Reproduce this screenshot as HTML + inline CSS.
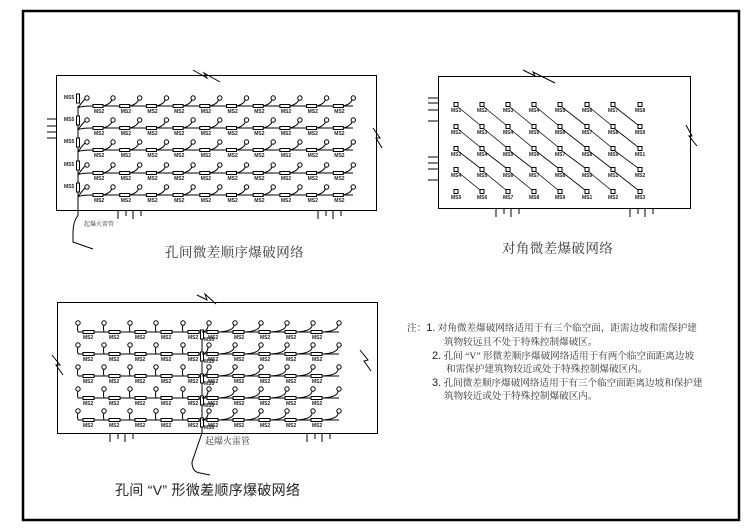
<!DOCTYPE html>
<html><head><meta charset="utf-8"><style>
html,body{margin:0;padding:0;background:#fff;width:749px;height:530px;overflow:hidden}
svg{display:block}
.t{font-family:"Liberation Sans","Noto Sans CJK SC",sans-serif;fill:#222}
.s{font-family:"Liberation Serif","Noto Serif CJK SC",serif;fill:#333}
</style></head><body>
<svg id="g" width="749" height="530" viewBox="0 0 749 530" xmlns="http://www.w3.org/2000/svg">
<rect x="23" y="11" width="716" height="509" fill="none" stroke="#000" stroke-width="2.5"/>
<g fill="none" stroke="#000" stroke-width="1">
<rect x="56.5" y="75.5" width="320" height="135"/>
<rect x="438.5" y="76.5" width="252" height="132"/>
<rect x="57.5" y="302.5" width="320" height="131"/>
</g>
<g id="d" fill="none" stroke="#000" stroke-width="1"></g>
<text class="s" x="165" y="257" font-size="13.5" letter-spacing="0.4">孔间微差顺序爆破网络</text>
<text class="s" x="502" y="253" font-size="13.5" letter-spacing="0.4">对角微差爆破网络</text>
<text class="t" x="115" y="495" font-size="14" letter-spacing="0.3">孔间 “V” 形微差顺序爆破网络</text>
<text class="s" x="84" y="226" font-size="6">起爆火雷管</text>
<text class="s" x="205" y="444" font-size="9">起爆火雷管</text>
<g class="s" font-size="9.6">
<text x="407" y="331">注：<tspan class="t" font-size="11">1.</tspan> 对角微差爆破网络适用于有三个临空面，距需边坡和需保护建</text>
<text x="444" y="345">筑物较远且不处于特殊控制爆破区。</text>
<text x="432" y="359"><tspan class="t" font-size="11">2.</tspan> 孔间 “V” 形微差顺序爆破网络适用于有两个临空面距离边坡</text>
<text x="446" y="372">和需保护建筑物较近或处于特殊控制爆破区内。</text>
<text x="432" y="386"><tspan class="t" font-size="11">3.</tspan> 孔间微差顺序爆破网络适用于有三个临空面距离边坡和保护建</text>
<text x="444" y="399">筑物较近或处于特殊控制爆破区内。</text>
</g>
</svg>
<script>
var d=document.getElementById('d'),NS='http://www.w3.org/2000/svg',svg=document.getElementById('g');
function el(t,a,p){var e=document.createElementNS(NS,t);for(var k in a)e.setAttribute(k,a[k]);(p||d).appendChild(e);return e}
function L(x1,y1,x2,y2,w){el('line',{x1:x1,y1:y1,x2:x2,y2:y2,'stroke-width':w||1})}
function P(s,w){el('path',{d:s,'stroke-width':w||1})}
function C(x,y){el('circle',{cx:x,cy:y,r:2.2,fill:'#fff'})}
function R(x,y,w,h){el('rect',{x:x,y:y,width:w,height:h,fill:'#fff'})}
function T(x,y,s,f){var e=el('text',{x:x,y:y,'font-size':f||5,'class':'t',stroke:'none','font-weight':'bold'},svg);e.textContent=s}
function brk(pts){P('M'+pts.join(' L'))}
brk(['193,70','207,78','204,73','220,82']);
brk(['373,128','380,138','376,138','382,148']);
brk(['523,70','535,76','533,72','555,83']);
brk(['686,125','692,136','689,136','697,146']);
brk(['197,295','207,300','205,294','216,304']);
brk(['52,355','60,365','56,365','63,375']);
brk(['360,350','368,360','364,361','371,371']);
[119,126,132,138].forEach(function(y){L(47,y,56,y)});
[98,103,110,121,157,163,169,180].forEach(function(y){L(428,y,438,y)});
function ticks(x0,y0){[0,8,15,23].forEach(function(o,i){L(x0+o,y0,x0+o,y0+(i%2?5:8))})}
ticks(118,211);ticks(318,211);ticks(496,209);ticks(630,209);ticks(110,434);ticks(307,434);
var rows1=[98,120,142,165,187];
L(78,106,78,210);
rows1.forEach(function(y,r){
 var ly=y+8;
 P('M78,'+(ly+2)+' Q80,'+ly+' 93,'+ly);
 L(93,ly,353,ly);
 R(76.5,ly-12,3,9);
 T(64,ly-13+6,'MS5');
 P('M78,'+(ly+2)+' Q81,'+(y+5)+' 85,'+(y+1));
 C(87,y);
 for(var i=0;i<10;i++){var x=93+i*26.7;R(x,ly-1.5,10,3);T(x+1,ly+7,'MS2');
  var cx=113+i*26.7; P('M'+(x+10)+','+ly+' Q'+(cx-2)+','+(ly-2)+' '+(cx-1)+','+(y+1));C(cx,y);}
});
P('M78,210 L78,215 Q73,222 73,232 L73,242 L93,249');
var cols=[456,482,508,534,560,587,613,640],rows2=[105,127,149,170,192];
for(var r=0;r<5;r++)for(var c=0;c<8;c++){var x=cols[c],y=rows2[r];
 if(r<4&&c<7)L(x+2,y+2,cols[c+1]-2,rows2[r+1]-2,0.8);
 el('rect',{x:x-2,y:y-2.5,width:4,height:4,fill:'#fff'});
 T(x-5,y+7,'MS'+((c+r)%9+1),5);}
var rows3=[323,345,367,389,411],lc=[78,104,130,156,183],rc=[209,235,261,287,313,339];
L(202,334,202,433);
rows3.forEach(function(y){var ly=y+9;
 L(78,ly,339,ly);
 R(200.5,ly-2,3,9);T(204,ly+9,'MS5');
 lc.forEach(function(x){P('M'+x+','+ly+' Q'+(x-1)+','+(y+5)+' '+x+','+(y+2));C(x,y);R(x+5,ly-1.5,11,3);T(x+5,ly+7,'MS2');});
 rc.forEach(function(x,i){if(i<5){R(x-2,ly-1.5,11,3);T(x-1,ly+7,'MS2')}P('M'+(x-(i?16:7))+','+ly+' Q'+(x-1)+','+(ly-1)+' '+(x-1)+','+(y+2));C(x,y);});
});
P('M202,433 L192,462 Q192,472 200,473 L210,475');
</script>
</body></html>
